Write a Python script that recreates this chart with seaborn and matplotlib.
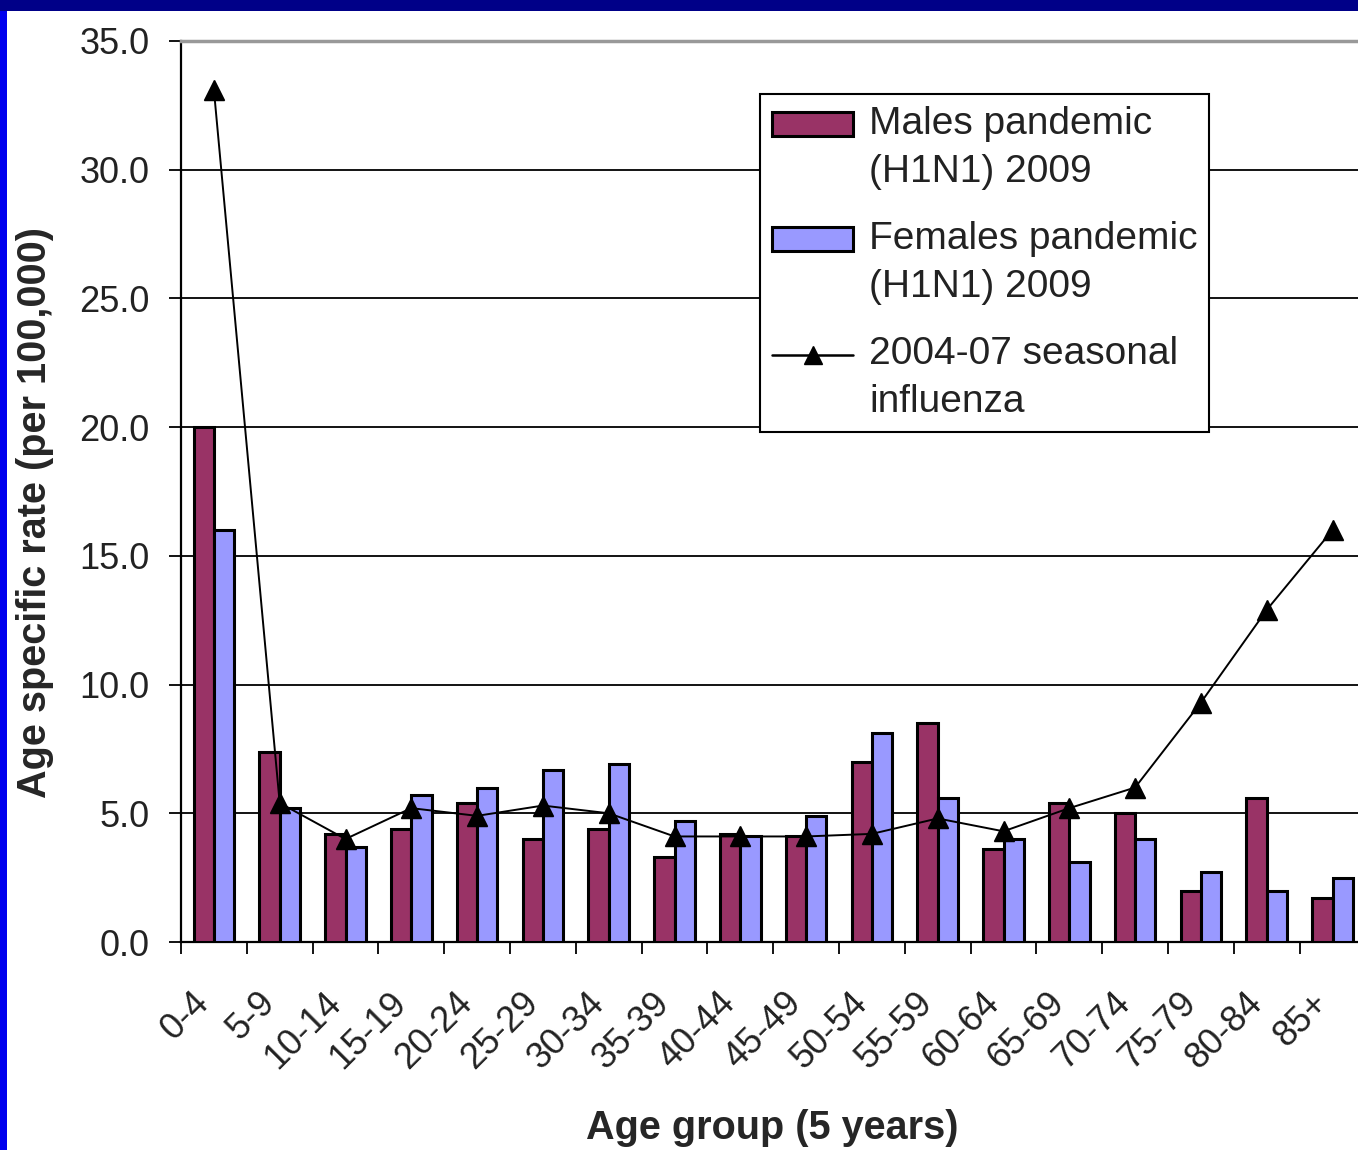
import matplotlib
matplotlib.use('Agg')
import matplotlib.pyplot as plt
import matplotlib.transforms as mtransforms
from matplotlib.patches import Patch, Rectangle
from matplotlib.lines import Line2D
from matplotlib.legend_handler import HandlerPatch, HandlerLine2D
import pandas as pd
import seaborn as sns

ages = ['0-4', '5-9', '10-14', '15-19', '20-24', '25-29', '30-34', '35-39', '40-44',
        '45-49', '50-54', '55-59', '60-64', '65-69', '70-74', '75-79', '80-84', '85+']
males = [20.0, 7.4, 4.2, 4.4, 5.4, 4.0, 4.4, 3.3, 4.2, 4.1, 7.0, 8.5, 3.6, 5.4, 5.0, 2.0, 5.6, 1.7]
females = [16.0, 5.2, 3.7, 5.7, 6.0, 6.7, 6.9, 4.7, 4.1, 4.9, 8.1, 5.6, 4.0, 3.1, 4.0, 2.7, 2.0, 2.5]
seasonal = [33.1, 5.4, 4.0, 5.2, 4.9, 5.3, 5.0, 4.1, 4.1, 4.1, 4.2, 4.8, 4.3, 5.2, 6.0, 9.3, 12.9, 16.0]

male_label = 'Males pandemic\n(H1N1) 2009'
female_label = 'Females pandemic\n(H1N1) 2009'
seasonal_label = '2004-07 seasonal\ninfluenza'
male_color = '#993366'
female_color = '#9999FF'

df = pd.DataFrame({
    'age': ages * 2,
    'rate': males + females,
    'group': [male_label] * len(ages) + [female_label] * len(ages),
})

LEG_FS = 28
SHIFT = 0.62 * LEG_FS  # raise legend keys to the first text line


class UpPatch(HandlerPatch):
    def create_artists(self, legend, orig_handle, xdescent, ydescent, width, height,
                       fontsize, trans):
        return super().create_artists(legend, orig_handle, xdescent, ydescent - SHIFT,
                                      width, height, fontsize, trans)


class UpLine(HandlerLine2D):
    def create_artists(self, legend, orig_handle, xdescent, ydescent, width, height,
                       fontsize, trans):
        return super().create_artists(legend, orig_handle, xdescent, ydescent - 2 * SHIFT,
                                      width, height, fontsize, trans)


sns.set_style('white')
plt.rcParams['font.family'] = ['Liberation Sans', 'DejaVu Sans']

fig = plt.figure(figsize=(13.58, 11.5), dpi=100)
fig.patch.set_facecolor('white')
# slide background strips
fig.patches.append(Rectangle((0, 1 - 11 / 1150), 1, 11 / 1150, transform=fig.transFigure,
                             facecolor='#000088', edgecolor='none', zorder=0))
fig.patches.append(Rectangle((0, 0), 7 / 1358, 1 - 11 / 1150, transform=fig.transFigure,
                             facecolor='#0000EE', edgecolor='none', zorder=0))

ax = fig.add_axes([181 / 1358, 208 / 1150, 1184.4 / 1358, 901 / 1150])

sns.barplot(data=df, x='age', y='rate', hue='group', order=ages,
            palette=[male_color, female_color], width=0.62, gap=0,
            edgecolor='black', linewidth=2.2, saturation=1, ax=ax, legend=False, zorder=3)
sns.pointplot(x=ages, y=seasonal, color='black', markers='^', linestyles='-',
              markersize=14, linewidth=1.4, ax=ax, zorder=4)

ax.set_xlim(-0.5, len(ages) - 0.5)
ax.set_ylim(0, 35)
ax.set_yticks([0, 5, 10, 15, 20, 25, 30, 35])
ax.set_yticklabels([f'{v:.1f}' for v in [0, 5, 10, 15, 20, 25, 30, 35]])
ax.yaxis.grid(True, color='black', linewidth=1.3, zorder=0)
ax.set_axisbelow(True)

ax.spines['right'].set_visible(False)
ax.spines['top'].set_color('#999999')
ax.spines['top'].set_linewidth(2.5)
ax.spines['left'].set_color('black')
ax.spines['left'].set_linewidth(1.6)
ax.spines['bottom'].set_color('black')
ax.spines['bottom'].set_linewidth(1.6)

ax.tick_params(axis='y', direction='out', length=8.5, width=1.3, color='black',
               labelsize=26, pad=14, labelcolor='#222222', left=True)
ax.set_xticks(range(len(ages)))
ax.set_xticks([i - 0.5 for i in range(len(ages) + 1)], minor=True)
ax.tick_params(axis='x', which='major', length=0, pad=40, labelsize=26, labelcolor='#222222')
ax.tick_params(axis='x', which='minor', direction='out', length=8.5, width=1.3,
               color='black', bottom=True)
ax.set_xticklabels(ages, rotation=45, ha='right', va='center', rotation_mode='anchor')
offset = mtransforms.ScaledTranslation(-10 / 100, 0, fig.dpi_scale_trans)
for lab in ax.get_xticklabels():
    lab.set_transform(lab.get_transform() + offset)

ax.set_xlabel('Age group (5 years)', fontsize=28.5, fontweight='bold', va='center')
ax.set_ylabel('Age specific rate (per 100,000)', fontsize=28.5, fontweight='bold', va='center')
ax.xaxis.set_label_coords(0.499, -0.206)
ax.yaxis.set_label_coords(-0.123, 0.477)

h_male = Patch(facecolor=male_color, edgecolor='black', linewidth=2.2)
h_female = Patch(facecolor=female_color, edgecolor='black', linewidth=2.2)
h_seasonal = Line2D([0], [0], color='black', linewidth=1.8, marker='^', markersize=13)
leg = ax.legend([h_male, h_female, h_seasonal], [male_label, female_label, seasonal_label],
                handler_map={h_male: UpPatch(), h_female: UpPatch(), h_seasonal: UpLine()},
                loc='upper left', bbox_to_anchor=(0.4889, 0.9412), borderaxespad=0,
                fontsize=LEG_FS, frameon=True, fancybox=False, framealpha=1,
                edgecolor='black', handlelength=2.1, handleheight=0.55,
                handletextpad=0.4, borderpad=0.3, labelspacing=0.78)
for t in leg.get_texts():
    t.set_linespacing(1.45)
    t.set_color('#222222')
leg.get_frame().set_linewidth(1.5)
leg.set_zorder(10)

fig.savefig('out.png', dpi=100, facecolor=fig.get_facecolor())
